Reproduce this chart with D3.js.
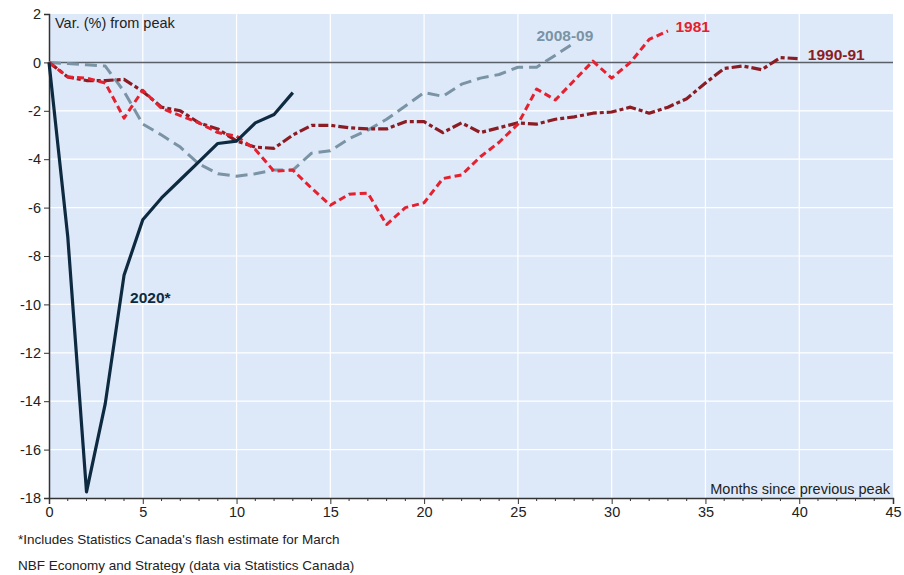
<!DOCTYPE html>
<html><head><meta charset="utf-8">
<script src="https://cdn.jsdelivr.net/npm/d3@7"></script>
<style>body{margin:0;background:#fff;}svg{display:block;font-family:"Liberation Sans",Arial,sans-serif;}</style>
</head><body><svg id="c" width="904" height="575"></svg>
<script>
const xTicks = [0,5,10,15,20,25,30,35,40,45];
const yTicks = [2,0,-2,-4,-6,-8,-10,-12,-14,-16,-18];
const s2020 = [0,-7.2,-17.75,-14.1,-8.8,-6.5,-5.6,-4.85,-4.1,-3.35,-3.25,-2.5,-2.15,-1.25];
const s2008 = [0,-0.05,-0.1,-0.15,-1.2,-2.55,-3.0,-3.5,-4.2,-4.6,-4.7,-4.6,-4.45,-4.45,-3.75,-3.65,-3.15,-2.8,-2.35,-1.8,-1.25,-1.4,-0.9,-0.65,-0.5,-0.2,-0.2,0.3,0.8];
const s1981 = [0,-0.6,-0.65,-0.85,-2.3,-1.15,-1.9,-2.2,-2.5,-2.9,-3.05,-3.6,-4.5,-4.45,-5.2,-5.9,-5.45,-5.4,-6.7,-6.0,-5.8,-4.8,-4.65,-3.9,-3.3,-2.55,-1.1,-1.55,-0.75,0.05,-0.65,0.0,0.95,1.3];
const s1990 = [0,-0.6,-0.75,-0.75,-0.7,-1.2,-1.85,-2.0,-2.5,-2.75,-3.25,-3.5,-3.55,-3.0,-2.6,-2.6,-2.7,-2.75,-2.75,-2.45,-2.45,-2.9,-2.5,-2.9,-2.7,-2.5,-2.55,-2.35,-2.25,-2.1,-2.05,-1.85,-2.1,-1.85,-1.5,-0.85,-0.25,-0.15,-0.3,0.2,0.15];
const seriesNames = ["2008-09","1981","1990-91","2020*"];

const svg = d3.select("#c");
const L=49,R=893,T=14,B=498;
const x = d3.scaleLinear().domain([0,45]).range([L,R]);
const y = d3.scaleLinear().domain([-18,2]).range([B,T]);

svg.append("rect").attr("x",L).attr("y",T).attr("width",R-L).attr("height",B-T).attr("fill","#dde9f9");
// grid
svg.append("g").selectAll("line").data(xTicks.slice(1,-1)).join("line")
  .attr("x1",d=>x(d)).attr("x2",d=>x(d)).attr("y1",T).attr("y2",B).attr("stroke","#fff").attr("stroke-width",1.2);
svg.append("g").selectAll("line").data(yTicks.filter(d=>d!==2&&d!==-18&&d!==0)).join("line")
  .attr("x1",L).attr("x2",R).attr("y1",d=>y(d)).attr("y2",d=>y(d)).attr("stroke","#fff").attr("stroke-width",1.2);
svg.append("line").attr("x1",L).attr("x2",R).attr("y1",y(0)).attr("y2",y(0)).attr("stroke","#5a6068").attr("stroke-width",1.5);

// axes
const xAxis = d3.axisBottom(x).tickValues(xTicks).tickSize(6).tickPadding(3).tickFormat(d3.format("d"));
const gx = svg.append("g").attr("transform",`translate(0,${B})`).call(xAxis);
gx.selectAll(".tick text").attr("font-size",14.5).attr("fill","#222").attr("font-family","Liberation Sans, Arial, sans-serif");
gx.select(".domain").attr("stroke","#333").attr("stroke-width",1.5);
gx.selectAll(".tick line").attr("stroke","#333");
const minor = d3.range(0,46).filter(d=>d%5!==0);
svg.append("g").selectAll("line").data(minor).join("line")
  .attr("x1",d=>x(d)).attr("x2",d=>x(d)).attr("y1",B).attr("y2",B+3).attr("stroke","#333");
const yAxis = d3.axisLeft(y).tickValues(yTicks).tickSize(5).tickPadding(3).tickFormat(d3.format("d"));
const gy = svg.append("g").attr("transform",`translate(${L},0)`).call(yAxis);
gy.selectAll(".tick text").attr("font-size",14.5).attr("fill","#222").attr("font-family","Liberation Sans, Arial, sans-serif").text(d=>d<0?"-"+Math.abs(d):d);
gy.select(".domain").attr("stroke","#333").attr("stroke-width",1.5);
gy.selectAll(".tick line").attr("stroke","#333");

const line = d3.line().x((d,i)=>x(i)).y(d=>y(d)).curve(d3.curveLinear);
const draw=(data,color,dash,w)=>svg.append("path").datum(data).attr("d",line).attr("fill","none")
  .attr("stroke",color).attr("stroke-width",w).attr("stroke-dasharray",dash).attr("stroke-linejoin","round");
draw(s2008,"#7a93a5","12,6",3);
draw(s1990,"#8b1c24","10,3,4,3",3.2);
draw(s1981,"#e5202f","7,4",3);
draw(s2020,"#0e2a40",null,3.2);

const lab=(t,xx,yy,c)=>svg.append("text").attr("x",xx).attr("y",yy).attr("fill",c).attr("font-weight","bold").attr("font-size",15.5).text(t);
lab(seriesNames[0],x(25.99),41,"#7a93a5");
lab(seriesNames[1],x(33.4),32,"#e5202f");
lab(seriesNames[2],x(40.46),60,"#8b1c24");
lab(seriesNames[3],x(4.32),303,"#0e2a40");

svg.append("text").attr("x",55).attr("y",28).attr("font-size",14.5).attr("fill","#222").text("Var. (%) from peak");
svg.append("text").attr("x",R-3).attr("y",494).attr("text-anchor","end").attr("font-size",14.5).attr("fill","#222").text("Months since previous peak");
svg.append("text").attr("x",18).attr("y",544).attr("font-size",13.5).attr("fill","#222").text("*Includes Statistics Canada's flash estimate for March");
svg.append("text").attr("x",18).attr("y",570).attr("font-size",13.5).attr("fill","#222").text("NBF Economy and Strategy (data via Statistics Canada)");
</script></body></html>
